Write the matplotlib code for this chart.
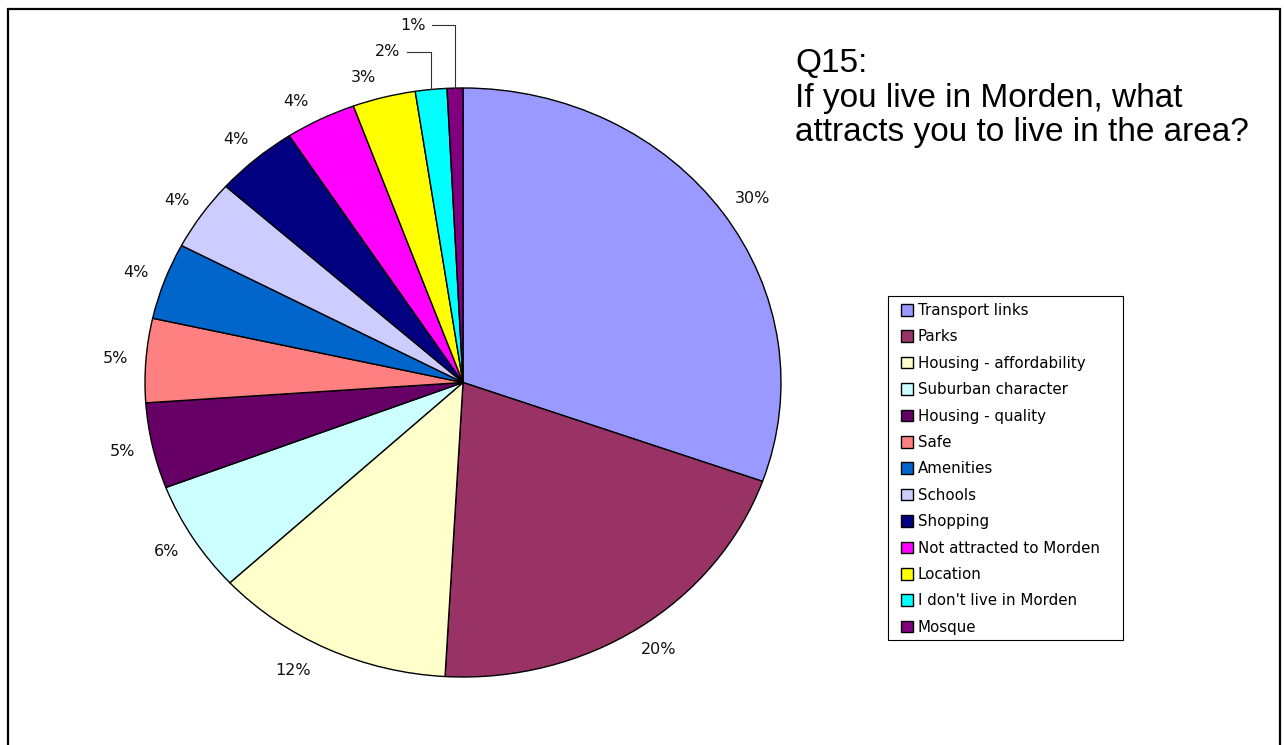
import matplotlib.pyplot as plt
from matplotlib.patches import Rectangle
import numpy as np

# Q15 responses, share of answers (%)
reasons = ['Transport links', 'Parks', 'Housing - affordability', 'Suburban character',
           'Housing - quality', 'Safe', 'Amenities', 'Schools', 'Shopping',
           'Not attracted to Morden', 'Location', "I don't live in Morden", 'Mosque']
shares = [30.45, 20.45, 12.2, 6.1, 4.7, 4.6, 4.2, 3.9, 4.2, 3.6, 3.2, 1.6, 0.8]
colours = ['#9999FF', '#993366', '#FFFFCC', '#CCFFFF', '#660066', '#FF8080', '#0066CC',
           '#CCCCFF', '#000080', '#FF00FF', '#FFFF00', '#00FFFF', '#800080']

W, H = 1284, 745
fig = plt.figure(figsize=(W / 100, H / 100), dpi=100)

def fx(px):
    return px / W

def fy(py):
    return 1 - py / H

# pie area (stretched a little wider than tall)
cx, cy, rx, ry = 463, 382.5, 318, 294.5
ax = fig.add_axes([fx(cx - rx), fy(cy + ry), 2 * rx / W, 2 * ry / H])

wedges, texts, autotexts = ax.pie(
    shares, colors=colours, startangle=90, counterclock=False,
    autopct='%1.0f%%', pctdistance=1.1,
    wedgeprops=dict(edgecolor='black', linewidth=1.0),
    textprops=dict(fontsize=11.5, family='DejaVu Sans', color='#111111'))
ax.set_aspect('auto')
ax.set_xlim(-1, 1)
ax.set_ylim(-1, 1)
ax.axis('off')

# push each percentage out so its box sits a fixed gap beyond the rim
fig.canvas.draw()
gap = 18  # px
nudge = {2: (-19, -2), 9: (-11, 5), 10: (-13, 5)}  # crowded labels, px (right, down)
for i, (w, t) in enumerate(zip(wedges, autotexts)):
    if i >= 11:
        continue
    bb = t.get_window_extent()
    mid = np.deg2rad((w.theta1 + w.theta2) / 2)
    ux, uy = np.cos(mid), np.sin(mid)
    px = cx + rx * ux + gap * ux + bb.width / 2 * ux
    py = cy - ry * uy - gap * uy - bb.height / 2 * uy
    dx, dy = nudge.get(i, (0, 0))
    px, py = px + dx, py + dy
    t.set_position(((px - cx) / rx, (cy - py) / ry))
    t.set_ha('center')
    t.set_va('center')

# the two smallest slices get their labels pulled up with leader lines
moved = {12: (413, 25), 11: (388, 52)}
for i, (tpx, tpy) in moved.items():
    w = wedges[i]
    mid = np.deg2rad((w.theta1 + w.theta2) / 2)
    ex, ey = np.cos(mid), np.sin(mid)
    tx, ty = (tpx - cx) / rx, (cy - tpy) / ry
    autotexts[i].set_position((tx, ty))
    autotexts[i].set_ha('center')
    autotexts[i].set_va('center')
    ax.plot([(tpx + 19 - cx) / rx, ex, ex], [ty, ty, ey], color='#333333', lw=0.8,
            clip_on=False, solid_joinstyle='miter')

# legend with an Excel-style box drawn round it
leg = fig.legend(wedges, reasons, loc='upper left',
                 bbox_to_anchor=(fx(901), fy(303)), bbox_transform=fig.transFigure,
                 frameon=False, borderpad=0, borderaxespad=0,
                 handlelength=0.8, handleheight=0.8, handletextpad=0.3,
                 labelspacing=0.76, prop=dict(family='DejaVu Sans', size=10.8))
fig.add_artist(Rectangle((fx(888), fy(640)), fx(1123) - fx(888), fy(296) - fy(640),
                         transform=fig.transFigure, fill=False, edgecolor='black', lw=0.8))

# question text
title_lines = ['Q15:', 'If you live in Morden, what', 'attracts you to live in the area?']
for line, base in zip(title_lines, [72, 107, 141]):
    fig.text(fx(795), fy(base), line, family='Liberation Sans', fontsize=24,
             va='baseline', ha='left')

# outer chart border (runs off the bottom edge)
fig.add_artist(Rectangle((fx(8), -0.05), fx(1280) - fx(8), fy(9) + 0.05,
                         transform=fig.transFigure, fill=False, edgecolor='black', lw=1.6))

fig.savefig('out.png', dpi=100, facecolor='white')
